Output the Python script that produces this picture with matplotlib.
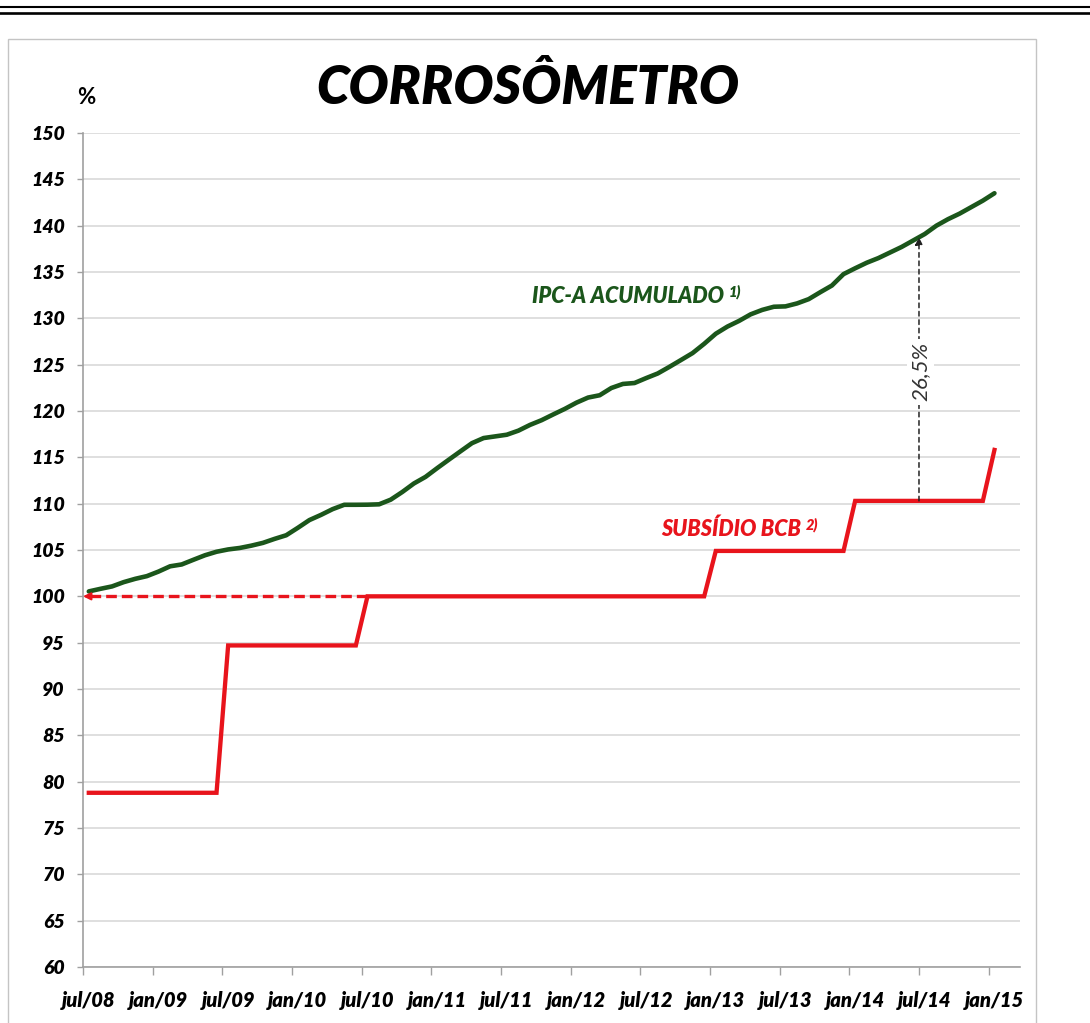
import matplotlib
matplotlib.use('Agg')
import matplotlib.pyplot as plt
import numpy as np
from matplotlib.lines import Line2D
from matplotlib.patches import Rectangle

# ---------------- data ----------------
tick_labels = ['jul/08', 'jan/09', 'jul/09', 'jan/10', 'jul/10', 'jan/11', 'jul/11',
               'jan/12', 'jul/12', 'jan/13', 'jul/13', 'jan/14', 'jul/14', 'jan/15']

# monthly values jul/08 .. jan/15 (79 months)
ipca = [100.53, 100.81, 101.07, 101.53, 101.89, 102.18,
        102.67, 103.24, 103.44, 103.94, 104.43, 104.81,
        105.06, 105.22, 105.47, 105.77, 106.20, 106.59,
        107.39, 108.23, 108.79, 109.41, 109.88, 109.88,
        109.89, 109.93, 110.43, 111.26, 112.18, 112.89,
        113.83, 114.74, 115.64, 116.53, 117.08, 117.26,
        117.44, 117.88, 118.50, 119.01, 119.63, 120.23,
        120.90, 121.45, 121.70, 122.48, 122.92, 123.02,
        123.55, 124.05, 124.76, 125.50, 126.25, 127.25,
        128.34, 129.11, 129.72, 130.43, 130.91, 131.25,
        131.29, 131.61, 132.07, 132.82, 133.54, 134.77,
        135.40, 136.00, 136.50, 137.10, 137.70, 138.40,
        139.10, 140.00, 140.70, 141.30, 142.00, 142.70,
        143.50]

subsidio = [78.8, 78.8, 78.8, 78.8, 78.8, 78.8,
            78.8, 78.8, 78.8, 78.8, 78.8, 78.8,
            94.7, 94.7, 94.7, 94.7, 94.7, 94.7,
            94.7, 94.7, 94.7, 94.7, 94.7, 94.7,
            100.0, 100.0, 100.0, 100.0, 100.0, 100.0,
            100.0, 100.0, 100.0, 100.0, 100.0, 100.0,
            100.0, 100.0, 100.0, 100.0, 100.0, 100.0,
            100.0, 100.0, 100.0, 100.0, 100.0, 100.0,
            100.0, 100.0, 100.0, 100.0, 100.0, 100.0,
            104.9, 104.9, 104.9, 104.9, 104.9, 104.9,
            104.9, 104.9, 104.9, 104.9, 104.9, 104.9,
            110.3, 110.3, 110.3, 110.3, 110.3, 110.3,
            110.3, 110.3, 110.3, 110.3, 110.3, 110.3,
            115.8]

gap_label = '26,5%'
gap_tick = 'jul/14'

# ---------------- figure ----------------
FONT = 'Lato'
W, H = 1090, 1023
fig = plt.figure(figsize=(W / 100, H / 100), dpi=100)
fig.patch.set_facecolor('white')

# decorative double rule at top and chart frame
fig.add_artist(Line2D([0, 1], [1 - 6.7 / H] * 2, transform=fig.transFigure,
                      color='black', lw=1.5))
fig.add_artist(Line2D([0, 1], [1 - 12.9 / H] * 2, transform=fig.transFigure,
                      color='black', lw=1.9))
fig.add_artist(Rectangle((8 / W, 1 - 1030 / H), (1036 - 8) / W, (1030 - 39) / H,
                         transform=fig.transFigure, fill=False,
                         ec='#c4c4c4', lw=1.0))

ax = fig.add_axes([83 / W, 1 - 967 / H, (1020 - 83) / W, (967 - 133) / H])

n = len(ipca)
x = np.arange(n) + 0.5

green = '#1b561b'
red = '#e8141c'

ax.plot(x, subsidio, color=red, lw=3.1, solid_joinstyle='miter', zorder=3)
ax.plot(x, ipca, color=green, lw=3.3, solid_capstyle='round', zorder=4)

ax.set_xlim(0, 80.7)
ax.set_ylim(60, 150)

# y axis
ax.set_yticks(np.arange(60, 151, 5))
ax.yaxis.grid(True, color='#d9d9d9', lw=1.2)
ax.set_axisbelow(True)
for s in ['top', 'right']:
    ax.spines[s].set_visible(False)
for s in ['left', 'bottom']:
    ax.spines[s].set_color('#a0a0a0')
    ax.spines[s].set_linewidth(1.2)
ax.tick_params(axis='y', length=4, color='#a0a0a0', width=1, pad=9,
               labelsize=14)

# x axis: ticks at category boundaries, labels centred on categories
tick_pos = np.arange(0, 6 * len(tick_labels), 6)
ax.set_xticks(tick_pos)
ax.set_xticklabels([])
ax.tick_params(axis='x', which='major', length=6, color='#a0a0a0', width=1)
ax.set_xticks(tick_pos + 0.5, minor=True)
ax.set_xticklabels(tick_labels, minor=True)
ax.tick_params(axis='x', which='minor', length=0, pad=17, labelsize=14.5)

for lab in ax.get_xticklabels(minor=True) + ax.get_yticklabels():
    lab.set_fontfamily(FONT)
    lab.set_fontweight('heavy')
    lab.set_fontstyle('italic')
    lab.set_color('black')

# dashed red reference line at 100 with arrow to origin
i100 = subsidio.index(100.0)
ax.plot([x[i100], 0.35], [100, 100], color=red, lw=2.4,
        ls=(0, (3.2, 1.5)), zorder=5)
ax.annotate('', xy=(0.0, 100), xytext=(1.2, 100),
            arrowprops=dict(arrowstyle='-|>', color=red, lw=1.5,
                            mutation_scale=11, shrinkA=0, shrinkB=0),
            zorder=6)

# vertical gap arrow at jul/14
xa = float(tick_pos[tick_labels.index(gap_tick)])
y_low = subsidio[int(xa)]
y_top = float(np.interp(xa, x, ipca))
ax.annotate('', xy=(xa, y_top), xytext=(xa, y_low),
            arrowprops=dict(arrowstyle='-|>', color='#222222', lw=1.1,
                            ls=(0, (3, 2.5)), mutation_scale=11,
                            shrinkA=0, shrinkB=0),
            zorder=6)
ax.text(xa + 0.15, (y_low + y_top) / 2 - 0.3, gap_label, rotation=90, ha='center',
        va='center', fontsize=16, fontstyle='italic', family=FONT,
        color='#333333', zorder=7,
        bbox=dict(boxstyle='square,pad=0.15', fc='white', ec='none'))

# series labels
t1 = ax.text(38.7, 132.4, 'IPC-A ACUMULADO', color=green, fontsize=15.5,
             fontweight='heavy', fontstyle='italic', family=FONT,
             ha='left', va='center', zorder=7)
ax.annotate('1)', xy=(1, 1), xycoords=t1, xytext=(3, 1),
            textcoords='offset points', ha='left', va='top', color=green,
            fontsize=10.5, fontweight='heavy', fontstyle='italic', family=FONT)
t2 = ax.text(49.8, 107.2, 'SUBSÍDIO BCB', color=red, fontsize=15.5,
             fontweight='heavy', fontstyle='italic', family=FONT,
             ha='left', va='center', zorder=7)
ax.annotate('2)', xy=(1, 1), xycoords=t2, xytext=(3, 1),
            textcoords='offset points', ha='left', va='top', color=red,
            fontsize=10.5, fontweight='heavy', fontstyle='italic', family=FONT)

# title and unit
fig.text(528 / W, 1 - 88 / H, 'CORROSÔMETRO', ha='center', va='center',
         fontsize=38, fontweight='heavy', fontstyle='italic', family=FONT,
         color='black')
fig.text(86 / W, 1 - 97 / H, '%', ha='center', va='center', fontsize=16,
         fontweight='bold', family=FONT, color='black')

fig.savefig('out.png', dpi=100, facecolor='white')
